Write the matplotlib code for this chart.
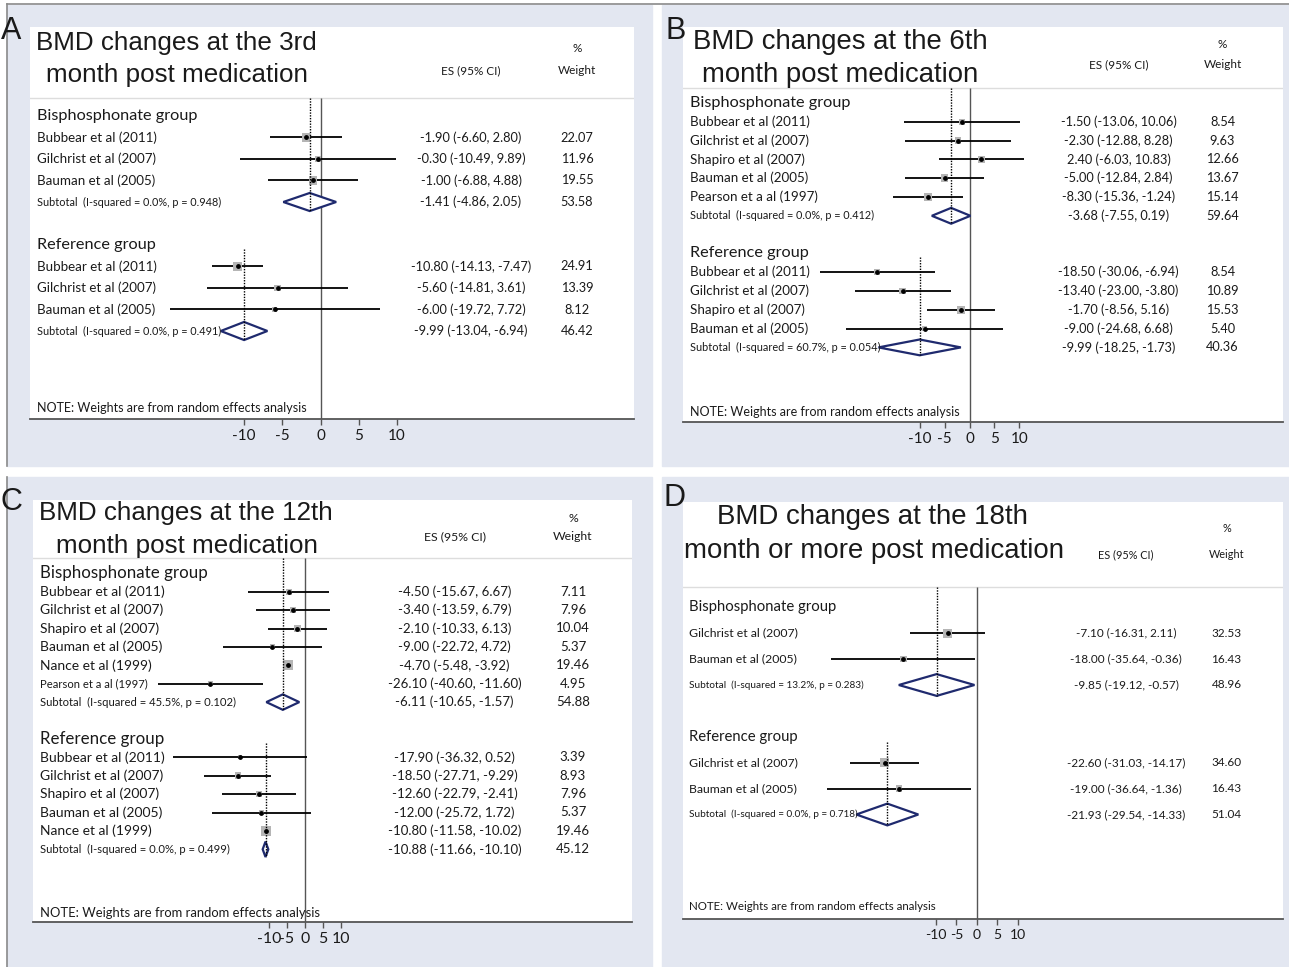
import numpy as np
import matplotlib.pyplot as plt
from matplotlib.patches import Rectangle, Polygon
from matplotlib.lines import Line2D

W, H = 1289, 967

# ---------------- data ----------------
# A: 3rd month
A_bis_names = ['Bubbear et al (2011)', 'Gilchrist et al (2007)', 'Bauman et al (2005)']
A_bis_es = [-1.90, -0.30, -1.00]
A_bis_lo = [-6.60, -10.49, -6.88]
A_bis_hi = [2.80, 9.89, 4.88]
A_bis_w = [22.07, 11.96, 19.55]
A_bis_sub = [-1.41, -4.86, 2.05, 53.58]
A_bis_het = 'I-squared = 0.0%, p = 0.948'
A_ref_names = ['Bubbear et al (2011)', 'Gilchrist et al (2007)', 'Bauman et al (2005)']
A_ref_es = [-10.80, -5.60, -6.00]
A_ref_lo = [-14.13, -14.81, -19.72]
A_ref_hi = [-7.47, 3.61, 7.72]
A_ref_w = [24.91, 13.39, 8.12]
A_ref_sub = [-9.99, -13.04, -6.94, 46.42]
A_ref_het = 'I-squared = 0.0%, p = 0.491'

# B: 6th month
B_bis_names = ['Bubbear et al (2011)', 'Gilchrist et al (2007)', 'Shapiro et al (2007)',
               'Bauman et al (2005)', 'Pearson et a al (1997)']
B_bis_es = [-1.50, -2.30, 2.40, -5.00, -8.30]
B_bis_lo = [-13.06, -12.88, -6.03, -12.84, -15.36]
B_bis_hi = [10.06, 8.28, 10.83, 2.84, -1.24]
B_bis_w = [8.54, 9.63, 12.66, 13.67, 15.14]
B_bis_sub = [-3.68, -7.55, 0.19, 59.64]
B_bis_het = 'I-squared = 0.0%, p = 0.412'
B_ref_names = ['Bubbear et al (2011)', 'Gilchrist et al (2007)', 'Shapiro et al (2007)',
               'Bauman et al (2005)']
B_ref_es = [-18.50, -13.40, -1.70, -9.00]
B_ref_lo = [-30.06, -23.00, -8.56, -24.68]
B_ref_hi = [-6.94, -3.80, 5.16, 6.68]
B_ref_w = [8.54, 10.89, 15.53, 5.40]
B_ref_sub = [-9.99, -18.25, -1.73, 40.36]
B_ref_het = 'I-squared = 60.7%, p = 0.054'

# C: 12th month
C_bis_names = ['Bubbear et al (2011)', 'Gilchrist et al (2007)', 'Shapiro et al (2007)',
               'Bauman et al (2005)', 'Nance et al (1999)', 'Pearson et a al (1997)']
C_bis_es = [-4.50, -3.40, -2.10, -9.00, -4.70, -26.10]
C_bis_lo = [-15.67, -13.59, -10.33, -22.72, -5.48, -40.60]
C_bis_hi = [6.67, 6.79, 6.13, 4.72, -3.92, -11.60]
C_bis_w = [7.11, 7.96, 10.04, 5.37, 19.46, 4.95]
C_bis_sub = [-6.11, -10.65, -1.57, 54.88]
C_bis_het = 'I-squared = 45.5%, p = 0.102'
C_ref_names = ['Bubbear et al (2011)', 'Gilchrist et al (2007)', 'Shapiro et al (2007)',
               'Bauman et al (2005)', 'Nance et al (1999)']
C_ref_es = [-17.90, -18.50, -12.60, -12.00, -10.80]
C_ref_lo = [-36.32, -27.71, -22.79, -25.72, -11.58]
C_ref_hi = [0.52, -9.29, -2.41, 1.72, -10.02]
C_ref_w = [3.39, 8.93, 7.96, 5.37, 19.46]
C_ref_sub = [-10.88, -11.66, -10.10, 45.12]
C_ref_het = 'I-squared = 0.0%, p = 0.499'

# D: 18th month or more
D_bis_names = ['Gilchrist et al (2007)', 'Bauman et al (2005)']
D_bis_es = [-7.10, -18.00]
D_bis_lo = [-16.31, -35.64]
D_bis_hi = [2.11, -0.36]
D_bis_w = [32.53, 16.43]
D_bis_sub = [-9.85, -19.12, -0.57, 48.96]
D_bis_het = 'I-squared = 13.2%, p = 0.283'
D_ref_names = ['Gilchrist et al (2007)', 'Bauman et al (2005)']
D_ref_es = [-22.60, -19.00]
D_ref_lo = [-31.03, -36.64]
D_ref_hi = [-14.17, -1.36]
D_ref_w = [34.60, 16.43]
D_ref_sub = [-21.93, -29.54, -14.33, 51.04]
D_ref_het = 'I-squared = 0.0%, p = 0.718'

ticks = [-10, -5, 0, 5, 10]

BODY = ['Lato', 'DejaVu Sans']
HEAD = ['Liberation Sans', 'DejaVu Sans']
NAVY = '#1f2a6e'
PANEL_BG = '#e3e7f1'
INK = '#1a1a1a'

fig = plt.figure(figsize=(W / 100, H / 100), dpi=100)


def fx(x):
    return x / W


def fy(y):
    return 1 - y / H


def ftext(x, y, s, size, ha='left', family=BODY, **kw):
    fig.text(fx(x), fy(y), s, size=size, ha=ha, va='center', family=family,
             color=INK, zorder=5, **kw)


# panel backgrounds
for (x0, y0, x1, y1) in [(7, 5, 652, 466), (662, 5, 1289, 466),
                         (7, 477, 652, 967), (662, 477, 1289, 967)]:
    fig.patches.append(Rectangle((fx(x0), fy(y1)), (x1 - x0) / W, (y1 - y0) / H,
                                 transform=fig.transFigure, color=PANEL_BG, zorder=-2))
for xs, ys in [([7, 1289], [4, 4]), ([7, 7], [4, 466]), ([7, 7], [477, 967])]:
    fig.lines.append(Line2D([fx(v) for v in xs], [fy(v) for v in ys],
                            transform=fig.transFigure, color='#8a8a8a', lw=1.2, zorder=-1))


def panel(letter, titles, groups, L):
    l, t, r, b = L['box']
    s = L['fs']
    ax = fig.add_axes([fx(l), fy(b), (r - l) / W, (b - t) / H])
    ax.set_facecolor('white')
    ax.set_xlim((l - L['zero']) / L['ppu'], (r - L['zero']) / L['ppu'])
    ax.set_ylim(b, t)
    for sp in ['top', 'left', 'right']:
        ax.spines[sp].set_visible(False)
    ax.spines['bottom'].set_color('#555555')
    ax.spines['bottom'].set_linewidth(1.3)
    ax.set_yticks([])
    ax.set_xticks(ticks)
    ax.set_xticklabels([str(v) for v in ticks], family=BODY, color=INK)
    ax.tick_params(axis='x', length=4, width=1, color='#555555', labelsize=11 * s, pad=3)

    ax.axhline(L['sep'], color='#dddddd', lw=1)
    ax.vlines(0, L['sep'], b, color='#555555', lw=1)

    # titles
    ftext(L['letter'][0], L['letter'][1], letter, 22, family=HEAD)
    for (tx, ty), line in zip(L['title'], titles):
        ftext(tx, ty, line, L['tsize'], family=HEAD)
    ftext(L['es_x'], L['hdr'][1], 'ES (95% CI)', 8.5 * s, ha='center')
    ftext(L['w_x'], L['hdr'][0], '%', 8.5 * s, ha='center')
    ftext(L['w_x'], L['hdr'][1], 'Weight', 8.5 * s, ha='center')

    y0, dy = L['y0'], L['dy']
    small = L.get('small', ())
    k = 0
    for gi, (gname, names, es, lo, hi, w, sub, het) in enumerate(groups):
        yh = y0 + k * dy
        ftext(L['lab_x'], yh, gname, 11.7 * s)
        ys = [y0 + (k + 1 + i) * dy for i in range(len(names))]
        ax.hlines(ys, lo, hi, color='black', lw=1.3, zorder=2)
        ax.scatter(es, ys, marker='s', s=np.array(w) * L['msz'], color='#b5b5b5',
                   edgecolors='none', zorder=3)
        ax.scatter(es, ys, marker='o', s=6, color='black', zorder=4)
        for y, n, e, a, c, ww in zip(ys, names, es, lo, hi, w):
            ftext(L['lab_x'], y, n, (7.8 if n in small else 9.6) * s)
            ftext(L['es_x'], y, f'{e:.2f} ({a:.2f}, {c:.2f})', 9.2 * s, ha='center')
            ftext(L['w_x'], y, f'{ww:.2f}', 9.2 * s, ha='center')
        ysub = y0 + (k + 1 + len(names)) * dy
        h = 0.42 * dy
        se, sl, sh, sw = sub
        ax.add_patch(Polygon([(sl, ysub), (se, ysub - h), (sh, ysub), (se, ysub + h)],
                             closed=True, facecolor='white', edgecolor=NAVY, lw=1.6, zorder=3))
        top = L['sep'] if gi == 0 else yh + 0.2 * dy
        ax.vlines(se, top, ysub + h, color='black', lw=1, linestyles=(0, (1, 1)), zorder=4)
        ftext(L['lab_x'], ysub, f'Subtotal  ({het})', 7.8 * s)
        ftext(L['es_x'], ysub, f'{se:.2f} ({sl:.2f}, {sh:.2f})', 9.2 * s, ha='center')
        ftext(L['w_x'], ysub, f'{sw:.2f}', 9.2 * s, ha='center')
        k += len(names) + 3

    ftext(L['lab_x'], L['note_y'], 'NOTE: Weights are from random effects analysis', 9.0 * s)


panel('A', ['BMD changes at the 3rd', 'month post medication'],
      [('Bisphosphonate group', A_bis_names, A_bis_es, A_bis_lo, A_bis_hi, A_bis_w, A_bis_sub, A_bis_het),
       ('Reference group', A_ref_names, A_ref_es, A_ref_lo, A_ref_hi, A_ref_w, A_ref_sub, A_ref_het)],
      dict(box=(30, 27, 634, 419), sep=98, zero=320.5, ppu=7.65, y0=116, dy=21.5,
           title=[(36, 43), (46, 75)], tsize=18.7, letter=(1, 31), es_x=471, w_x=577,
           hdr=(49, 71), lab_x=37, note_y=408, fs=1.0, msz=1.7))

panel('B', ['BMD changes at the 6th', 'month post medication'],
      [('Bisphosphonate group', B_bis_names, B_bis_es, B_bis_lo, B_bis_hi, B_bis_w, B_bis_sub, B_bis_het),
       ('Reference group', B_ref_names, B_ref_es, B_ref_lo, B_ref_hi, B_ref_w, B_ref_sub, B_ref_het)],
      dict(box=(683, 27, 1283, 422), sep=88, zero=969.5, ppu=4.99, y0=103, dy=18.8,
           title=[(693, 42), (702, 75)], tsize=19.8, letter=(665, 31), es_x=1118.5, w_x=1222.5,
           hdr=(45, 65), lab_x=690, note_y=412, fs=1.0, msz=2.3))

panel('C', ['BMD changes at the 12th', 'month post medication'],
      [('Bisphosphonate group', C_bis_names, C_bis_es, C_bis_lo, C_bis_hi, C_bis_w, C_bis_sub, C_bis_het),
       ('Reference group', C_ref_names, C_ref_es, C_ref_lo, C_ref_hi, C_ref_w, C_ref_sub, C_ref_het)],
      dict(box=(33, 500, 632, 922), sep=558, zero=305, ppu=3.63, y0=573.3, dy=18.4,
           title=[(39, 513), (56, 546)], tsize=18.7, letter=(1, 502), es_x=454.5, w_x=573,
           hdr=(518, 537), lab_x=40, note_y=913, fs=1.04, msz=2.5,
           small=('Pearson et a al (1997)',)))

panel('D', ['BMD changes at the 18th', 'month or more post medication'],
      [('Bisphosphonate group', D_bis_names, D_bis_es, D_bis_lo, D_bis_hi, D_bis_w, D_bis_sub, D_bis_het),
       ('Reference group', D_ref_names, D_ref_es, D_ref_lo, D_ref_hi, D_ref_w, D_ref_sub, D_ref_het)],
      dict(box=(683, 502, 1283, 919), sep=587, zero=976.8, ppu=4.08, y0=607.3, dy=25.9,
           title=[(717, 517), (684, 551)], tsize=19.9, letter=(663, 498), es_x=1126, w_x=1226.6,
           hdr=(529, 555), lab_x=689.5, note_y=907, fs=0.92, msz=1.3))

fig.savefig('out.png', dpi=100)
